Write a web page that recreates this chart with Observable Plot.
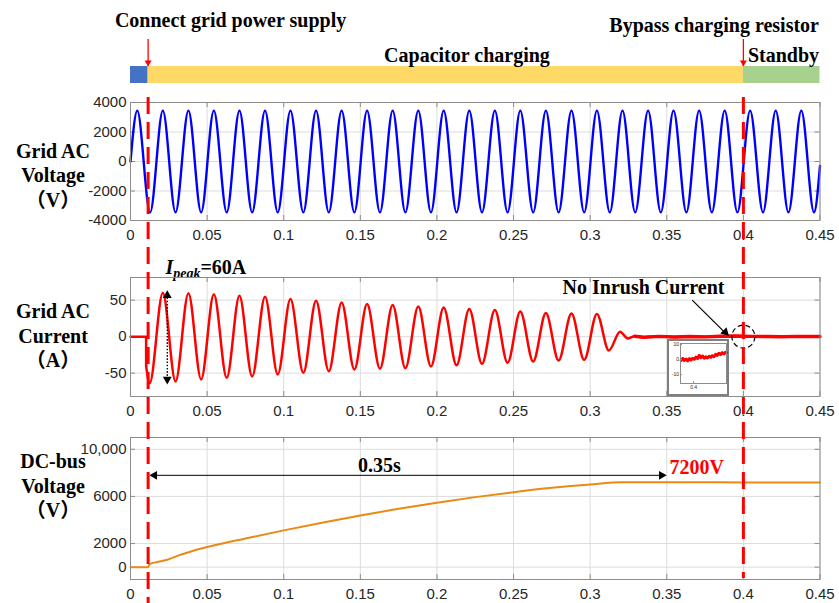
<!DOCTYPE html>
<html>
<head>
<meta charset="utf-8">
<script src="https://cdn.jsdelivr.net/npm/d3@7"></script>
<script src="https://cdn.jsdelivr.net/npm/@observablehq/plot@0.6"></script>
<style>
  body { margin: 0; background: #fff; }
  #fig { position: relative; width: 839px; height: 603px; overflow: hidden; background: #fff; }
  #fig svg { position: absolute; left: 0; }
  .ylab { position: absolute; left: 0; width: 106px; text-align: center;
          font: bold 20px "Liberation Serif", "Times New Roman", "Noto Sans CJK SC", serif;
          line-height: 24.3px; color: #000; }
</style>
</head>
<body>
<div id="fig"></div>
<script>
// ---- time axis -------------------------------------------------------
const xTicks = [0, 0.05, 0.1, 0.15, 0.2, 0.25, 0.3, 0.35, 0.4, 0.45];
const xTickLabels = ["0", "0.05", "0.1", "0.15", "0.2", "0.25", "0.3", "0.35", "0.4", "0.45"];

// ---- operating phases and switching events (s) ----------------------
const phaseStart = [0, 0.0115, 0.4];
const phaseEnd = [0.0115, 0.4, 0.45];
const phaseColors = ["#4472C4", "#FFD966", "#A9D18E"];
const phaseLabels = ["", "Capacitor charging", "Standby"];
const eventTimes = [0.0115, 0.4];
const eventLabels = ["Connect grid power supply", "Bypass charging resistor"];

// ---- grid AC voltage (V): extrema of the 60 Hz waveform -------------
const voltageTicks = [-4000, -2000, 0, 2000, 4000];
const voltageTickLabels = ["-4000", "-2000", "0", "2000", "4000"];
const voltageTimes = [
  0, 0.0044, 0.0128, 0.0211, 0.0294, 0.0378, 0.0461, 0.0544, 0.0628, 0.0711, 0.0794,
  0.0878, 0.0961, 0.1044, 0.1128, 0.1211, 0.1294, 0.1378, 0.1461, 0.1544, 0.1628,
  0.1711, 0.1794, 0.1878, 0.1961, 0.2044, 0.2128, 0.2211, 0.2294, 0.2378, 0.2461,
  0.2544, 0.2628, 0.2711, 0.2794, 0.2878, 0.2961, 0.3044, 0.3128, 0.3211, 0.3294,
  0.3378, 0.3461, 0.3544, 0.3628, 0.3711, 0.3794, 0.3878, 0.3961, 0.4044, 0.4128,
  0.4211, 0.4294, 0.4378, 0.4461, 0.45
];
const voltageValues = [
  0, 3450, -3450, 3450, -3450, 3450, -3450, 3450, -3450, 3450, -3450,
  3450, -3450, 3450, -3450, 3450, -3450, 3450, -3450, 3450, -3450,
  3450, -3450, 3450, -3450, 3450, -3450, 3450, -3450, 3450, -3450,
  3450, -3450, 3450, -3450, 3450, -3450, 3450, -3450, 3450, -3450,
  3450, -3450, 3450, -3450, 3450, -3450, 3450, -3450, 3450, -3450,
  3450, -3450, 3450, -3450, -300
];

// ---- grid AC current (A) ---------------------------------------------
const currentTicks = [-50, 0, 50];
const currentTickLabels = ["-50", "0", "50"];
// before the switch closes, then the step at closing
const currentOnsetTimes = [0, 0.0102, 0.0102];
const currentOnsetValues = [0, 0, -40];
// decaying charging oscillation and the settled tail
const currentTimes = [
  0.0102, 0.0125,
  0.0211, 0.0294, 0.0378, 0.0461, 0.0544, 0.0628, 0.0711, 0.0794, 0.0878, 0.0961,
  0.1044, 0.1128, 0.1211, 0.1294, 0.1378, 0.1461, 0.1544, 0.1628, 0.1711, 0.1794,
  0.1878, 0.1961, 0.2044, 0.2128, 0.2211, 0.2294, 0.2378, 0.2461, 0.2544, 0.2628,
  0.2711, 0.2794, 0.2878, 0.2961, 0.3044,
  0.3122, 0.3195, 0.3245,
  0.329, 0.335, 0.345, 0.355, 0.365, 0.375, 0.385, 0.395, 0.405, 0.415, 0.425, 0.435, 0.45
];
const currentValues = [
  -40, -64,
  60, -61.4, 59.5, -58.6, 58, -56.4, 55.9, -54.6, 54.6, -51.8,
  51.4, -49.5, 49.1, -47.3, 46.8, -45, 44.6, -44, 43.2, -43.2,
  41.3, -40.9, 40, -39.1, 37.8, -37.2, 36.4, -35.9, 34.5, -34.1,
  32.3, -32.7, 31.8, -31.8, 31,
  -19, 6.8, -2.5,
  0.5, -0.8, 0.3, -0.5, 0.2, -0.3, 0.6, 0.9, 0.4, 0.2, -0.2, 0.3, 0.1
];

// ---- detail around the bypass instant (A) ----------------------------
const insetXTicks = [0.4];
const insetXTickLabels = ["0.4"];
const insetYTicks = [-10, 0, 10];
const insetYTickLabels = ["-10", "0", "10"];
const insetTimes = [
  0.3962, 0.3967, 0.3972, 0.3977, 0.3982, 0.3987, 0.3992, 0.3997, 0.4002, 0.4007,
  0.4012, 0.4017, 0.4022, 0.4027, 0.4032, 0.4037, 0.4042, 0.4047, 0.4052, 0.4057,
  0.4062, 0.4067, 0.4072, 0.4077, 0.4082, 0.4087, 0.4092, 0.4097, 0.41
];
const insetValues = [
  -0.5, 0.8, -0.6, 0.4, -0.8, 0.6, -0.3, 0.9, 0.2, 1.6,
  0.7, 2.8, 1.2, 2.4, 0.9, 1.8, 1.1, 2.2, 1.5, 2.6,
  1.9, 3.5, 2.8, 4.2, 3.3, 4.6, 3.8, 4.9, 4.5
];

// ---- DC-bus voltage (V) ----------------------------------------------
const dcTicks = [0, 2000, 6000, 10000];
const dcTickLabels = ["0", "2000", "6000", "10,000"];
const dcTimes = [
  0, 0.0115, 0.0125, 0.018, 0.024, 0.0326, 0.04, 0.05, 0.075, 0.1, 0.125,
  0.15, 0.175, 0.2, 0.225, 0.25, 0.275, 0.3, 0.321, 0.35, 0.4, 0.45
];
const dcValues = [
  0, 0, 250, 450, 630, 1050, 1350, 1700, 2430, 3120, 3770,
  4390, 4950, 5460, 5940, 6360, 6730, 7020, 7200, 7200, 7190, 7180
];

// ---- layout helpers --------------------------------------------------
const fig = document.getElementById("fig");
const W = 839, X0 = 130, X1 = 819.5;
const axisColor = "#8c8c8c", gridColor = "#dcdcdc", textColor = "#262626";
const serif = "Liberation Serif, Times New Roman, serif";
const sans = "Liberation Sans, Arial, Helvetica, sans-serif";
const baseStyle = {background: "none", color: textColor, fontFamily: sans, overflow: "visible"};

const rows = (ts, vs) => ts.map((t, i) => ({t, v: vs[i]}));
const place = (svg, top) => { svg.style.top = top + "px"; fig.append(svg); return svg; };

// filled arrow head (d3 triangle points up; rotate turns it clockwise)
const head = (data, rotate, dx, dy) =>
  Plot.dot(data, {x: "t", y: "v", symbol: "triangle", r: 3.3, fill: "#000", stroke: "none", rotate, dx, dy});

function panel({top, height, marginTop, marginBottom, yDomain, yTicks, yTickLabels, marks}) {
  const innerH = height - marginTop - marginBottom;
  const innerW = X1 - X0;
  const svg = Plot.plot({
    width: W, height, marginLeft: X0, marginRight: W - X1, marginTop, marginBottom,
    x: {domain: [0, 0.45]},
    y: {domain: yDomain},
    style: baseStyle,
    marks: [
      Plot.gridX(xTicks, {stroke: gridColor, strokeOpacity: 1}),
      Plot.gridY(yTicks, {stroke: gridColor, strokeOpacity: 1}),
      Plot.ruleX(xTicks, {insetTop: innerH - 5, stroke: axisColor}),
      Plot.ruleX(xTicks, {insetBottom: innerH - 5, stroke: axisColor}),
      Plot.ruleY(yTicks, {insetRight: innerW - 5, stroke: axisColor}),
      Plot.ruleY(yTicks, {insetLeft: innerW - 5, stroke: axisColor}),
      ...marks,
      Plot.frame({stroke: axisColor}),
      Plot.axisX(xTicks, {tickSize: 0, tickPadding: 8.5, fontSize: 15, label: null,
        tickFormat: (d) => xTickLabels[xTicks.indexOf(d)]}),
      Plot.axisY(yTicks, {tickSize: 0, tickPadding: 4, fontSize: 15, label: null,
        tickFormat: (d) => yTickLabels[yTicks.indexOf(d)]})
    ]
  });
  return place(svg, top);
}

const boldText = (extra) => ({fontFamily: serif, fontWeight: "bold", fontSize: 20, fill: "#000",
  lineAnchor: "bottom", ...extra});

// ---- phase bar ---------------------------------------------------------
const phases = phaseStart.map((s, i) => ({s, e: phaseEnd[i], color: phaseColors[i], label: phaseLabels[i]}));
const events = eventTimes.map((t, i) => ({t, label: eventLabels[i]}));

place(Plot.plot({
  width: W, height: 88, marginLeft: X0, marginRight: W - X1, marginTop: 66, marginBottom: 5,
  x: {domain: [0, 0.45], axis: null},
  color: {type: "identity"},
  style: baseStyle,
  marks: [
    Plot.rect(phases, {x1: "s", x2: "e", fill: "color"}),
    Plot.text([{t: 0.2196, label: phaseLabels[1]}, {t: 0.4262, label: phaseLabels[2]}],
      boldText({x: "t", text: "label", frameAnchor: "top", dy: -5})),
    Plot.text([{t: 0.0653, label: eventLabels[0]}], boldText({x: "t", text: "label", frameAnchor: "top", dy: -40})),
    Plot.text([{t: 0.3809, label: eventLabels[1]}], boldText({x: "t", text: "label", frameAnchor: "top", dy: -35})),
    Plot.ruleX(events, {x: "t", insetTop: -27, insetBottom: 17, stroke: "#FF0000", strokeWidth: 1.3}),
    Plot.dot(events, {x: "t", frameAnchor: "top", symbol: "triangle", rotate: 180, r: 2.6,
      fill: "#FF0000", stroke: "none", dy: -4})
  ]
}), 0);

// ---- grid AC voltage ---------------------------------------------------
panel({
  top: 88, height: 160, marginTop: 14, marginBottom: 28,
  yDomain: [-4000, 4000], yTicks: voltageTicks, yTickLabels: voltageTickLabels,
  marks: [
    Plot.line(rows(voltageTimes, voltageValues), {x: "t", y: "v", curve: "monotone-x",
      stroke: "#0000FF", strokeWidth: 2.4})
  ]
});

// ---- grid AC current ---------------------------------------------------
const currentRows = rows(currentTimes, currentValues);
const currentSvg = panel({
  top: 250, height: 170, marginTop: 27, marginBottom: 24,
  yDomain: [-82, 81], yTicks: currentTicks, yTickLabels: currentTickLabels,
  marks: [
    Plot.line(rows(currentOnsetTimes, currentOnsetValues), {x: "t", y: "v", stroke: "#FF0000", strokeWidth: 2.5}),
    Plot.line(currentRows, {x: "t", y: "v", curve: "monotone-x", stroke: "#FF0000", strokeWidth: 2.5}),
    Plot.line(currentRows.filter((d) => d.t >= 0.326), {x: "t", y: "v", stroke: "#FF0000", strokeWidth: 3.4}),
    // first peak marker
    Plot.link([{t: 0.024, a: 58, b: -60}], {x1: "t", y1: "a", x2: "t", y2: "b",
      stroke: "#000", strokeWidth: 1.3, strokeDasharray: "1.6,1.6"}),
    head([{t: 0.024, v: 62}], 0, 0, 4),
    head([{t: 0.024, v: -64}], 180, 0, -4),
    Plot.text([{t: 0.0228, v: 85.8}], boldText({x: "t", y: "v", text: () => "Ipeak=60A", textAnchor: "start"})),
    // bypass instant
    Plot.text([{t: 0.3348, v: 58.2}], boldText({x: "t", y: "v", text: () => "No Inrush Current"})),
    Plot.link([{t1: 0.3666, v1: 50, t2: 0.3893, v2: 2.7}], {x1: "t1", y1: "v1", x2: "t2", y2: "v2",
      stroke: "#000", strokeWidth: 1.2}),
    head([{t: 0.3905, v: 1.4}], 134, -3.6, -3.5),
    Plot.dot([{t: 0.4, v: 0}], {x: "t", y: "v", r: 11.5, fill: "none", stroke: "#000",
      strokeWidth: 1.2, strokeDasharray: "5,3"})
  ]
});

// mixed styling for the peak label: italic I with subscript "peak"
d3.select(currentSvg).selectAll("text").filter(function () { return this.textContent === "Ipeak=60A"; })
  .each(function () {
    const t = d3.select(this).text(null);
    t.append("tspan").attr("font-style", "italic").text("I");
    t.append("tspan").attr("font-style", "italic").attr("font-size", 14).attr("dy", 4).text("peak");
    t.append("tspan").attr("dy", -4).text("=60A");
  });

// ---- inset: current around the bypass instant --------------------------
const insetBox = document.createElement("div");
Object.assign(insetBox.style, {position: "absolute", left: "667px", top: "339px", width: "62px", height: "57px",
  boxSizing: "border-box", border: "2px solid #7f7f7f", background: "#fff"});
fig.append(insetBox);
{
  const h = 53, w = 58, mt = 2, mb = 11, ml = 11, mr = 1;
  const inset = Plot.plot({
    width: w, height: h, marginLeft: ml, marginRight: mr, marginTop: mt, marginBottom: mb,
    x: {domain: [0.396, 0.41]},
    y: {domain: [-15.9, 10.7]},
    style: {...baseStyle, position: "static"},
    marks: [
      Plot.line(rows(insetTimes, insetValues), {x: "t", y: "v", stroke: "#FF0000", strokeWidth: 3}),
      Plot.ruleX(insetXTicks, {insetTop: h - mt - mb - 2, stroke: axisColor}),
      Plot.ruleY(insetYTicks, {insetRight: w - ml - mr - 2, stroke: axisColor}),
      Plot.frame({stroke: axisColor}),
      Plot.axisX(insetXTicks, {tickSize: 0, tickPadding: 2, fontSize: 5, label: null,
        tickFormat: (d) => insetXTickLabels[insetXTicks.indexOf(d)]}),
      Plot.axisY(insetYTicks, {tickSize: 0, tickPadding: 1.5, fontSize: 5, label: null,
        tickFormat: (d) => insetYTickLabels[insetYTicks.indexOf(d)]})
    ]
  });
  inset.style.position = "static";
  inset.style.display = "block";
  insetBox.append(inset);
}

// ---- DC-bus voltage ----------------------------------------------------
panel({
  top: 425, height: 178, marginTop: 12, marginBottom: 24,
  yDomain: [-1050, 11000], yTicks: dcTicks, yTickLabels: dcTickLabels,
  marks: [
    Plot.line(rows(dcTimes, dcValues), {x: "t", y: "v", curve: "monotone-x", stroke: "#EA8A14", strokeWidth: 2}),
    Plot.link([{t1: 0.016, t2: 0.346, v: 7790}], {x1: "t1", y1: "v", x2: "t2", y2: "v", stroke: "#000", strokeWidth: 1}),
    head([{t: 0.01305, v: 7790}], -90, 4, 0),
    head([{t: 0.3492, v: 7790}], 90, -4, 0),
    Plot.text([{t: 0.1625, v: 8070}], boldText({x: "t", y: "v", text: () => "0.35s"})),
    Plot.text([{t: 0.3518, v: 7876}], boldText({x: "t", y: "v", text: () => "7200V", textAnchor: "start", fill: "#FF0000"}))
  ]
});

// ---- switching instants across all panels -----------------------------
const overlay = Plot.plot({
  width: W, height: 603, marginLeft: X0, marginRight: W - X1, marginTop: 0, marginBottom: 0,
  x: {domain: [0, 0.45], axis: null},
  y: {type: "identity", axis: null},
  style: {...baseStyle, pointerEvents: "none"},
  marks: [
    Plot.ruleX([{t: eventTimes[0], y1: 97, y2: 603}, {t: eventTimes[1], y1: 97, y2: 578}],
      {x: "t", y1: "y1", y2: "y2", stroke: "#FF0000", strokeWidth: 3, strokeDasharray: "17,8"})
  ]
});
place(overlay, 0);

// ---- panel titles ------------------------------------------------------
[
  {top: 139, lines: ["Grid AC", "Voltage", "（V）"]},
  {top: 299.4, lines: ["Grid AC", "Current", "（A）"]},
  {top: 449.4, lines: ["DC-bus", "Voltage", "（V）"]}
].forEach(({top, lines}) => {
  const div = document.createElement("div");
  div.className = "ylab";
  div.style.top = top + "px";
  div.innerHTML = lines.join("<br>");
  fig.append(div);
});
</script>
</body>
</html>
